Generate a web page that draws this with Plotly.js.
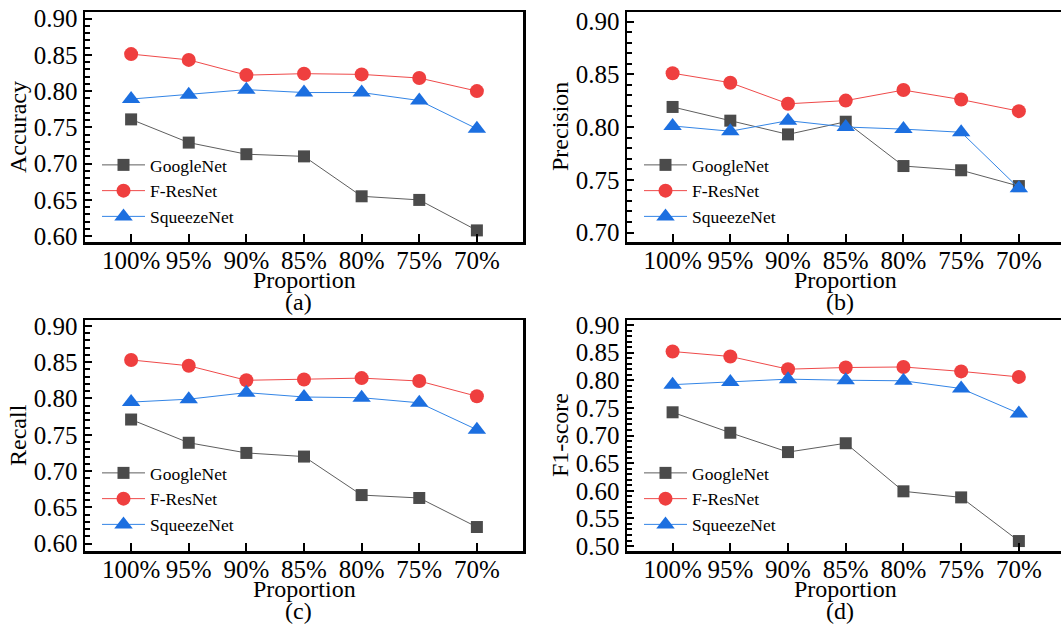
<!DOCTYPE html>
<html>
<head>
<meta charset="utf-8">
<script src="https://cdn.plot.ly/plotly-3.0.1.min.js"></script>
<style>html,body{margin:0;padding:0;background:#fff;}#chart{width:1061px;height:624px;}</style>
</head>
<body>
<div id="chart"></div>
<script>
const proportions = ["100%", "95%", "90%", "85%", "80%", "75%", "70%"];
const seriesNames = ["GoogleNet", "F-ResNet", "SqueezeNet"];

const accGoogleNet = [0.761, 0.729, 0.713, 0.710, 0.655, 0.650, 0.608];
const accFResNet   = [0.851, 0.843, 0.822, 0.824, 0.823, 0.818, 0.800];
const accSqueeze   = [0.789, 0.795, 0.802, 0.798, 0.798, 0.787, 0.748];

const preGoogleNet = [0.819, 0.806, 0.793, 0.805, 0.763, 0.759, 0.744];
const preFResNet   = [0.851, 0.842, 0.822, 0.825, 0.835, 0.826, 0.815];
const preSqueeze   = [0.801, 0.796, 0.806, 0.800, 0.798, 0.795, 0.742];

const recGoogleNet = [0.771, 0.739, 0.725, 0.720, 0.667, 0.663, 0.623];
const recFResNet   = [0.853, 0.845, 0.825, 0.826, 0.828, 0.824, 0.803];
const recSqueeze   = [0.795, 0.799, 0.808, 0.802, 0.801, 0.794, 0.757];

const f1GoogleNet  = [0.742, 0.705, 0.670, 0.686, 0.599, 0.588, 0.509];
const f1FResNet    = [0.852, 0.843, 0.820, 0.823, 0.824, 0.816, 0.806];
const f1Squeeze    = [0.792, 0.797, 0.802, 0.800, 0.799, 0.785, 0.740];

const yTitles = ["Accuracy", "Precision", "Recall", "F1-score"];
const panelLabels = ["(a)", "(b)", "(c)", "(d)"];
const xTitle = "Proportion";

const W = 1061, H = 624;
const FONT = "Liberation Serif";

const styles = [
  {marker: {symbol: "square", size: 12, color: "#4b4b4b"}, line: {color: "#5e5e5e", width: 1}},
  {marker: {symbol: "circle", size: 14, color: "#ef3f3f"}, line: {color: "#ef4a4a", width: 1}},
  {marker: {symbol: "triangle-up", size: 16, color: "#1c6fe0"}, line: {color: "#3385e6", width: 1}}
];

const panels = [
  {data: [accGoogleNet, accFResNet, accSqueeze], px: [85, 523], py: [12, 242], yr: [0.592, 0.909], xr: [-0.8, 6.8], mirrorY: true},
  {data: [preGoogleNet, preFResNet, preSqueeze], px: [627, 1061], py: [12, 242], yr: [0.691, 0.909], xr: [-0.79, 6.73], mirrorY: false},
  {data: [recGoogleNet, recFResNet, recSqueeze], px: [85, 523], py: [320, 551], yr: [0.590, 0.908], xr: [-0.8, 6.8], mirrorY: true},
  {data: [f1GoogleNet, f1FResNet, f1Squeeze], px: [627, 1061], py: [320, 551], yr: [0.491, 0.909], xr: [-0.79, 6.73], mirrorY: false}
];

const traces = [];
const layout = {
  width: W, height: H,
  margin: {l: 0, r: 0, t: 0, b: 0},
  paper_bgcolor: "#fff", plot_bgcolor: "#fff",
  font: {family: FONT, color: "#000", size: 22},
  annotations: []
};

panels.forEach((p, i) => {
  const sfx = i === 0 ? "" : String(i + 1);
  const xa = "x" + sfx, ya = "y" + sfx;
  const lg = i === 0 ? "legend" : "legend" + (i + 1);
  p.data.forEach((vals, s) => {
    traces.push({
      type: "scatter", mode: "lines+markers",
      x: proportions, y: vals, name: seriesNames[s],
      xaxis: xa, yaxis: ya, legend: lg,
      marker: styles[s].marker, line: styles[s].line,
      cliponaxis: false
    });
  });
  const dx = [p.px[0] / W, p.px[1] / W];
  const dy = [1 - p.py[1] / H, 1 - p.py[0] / H];
  layout["xaxis" + sfx] = {
    domain: dx, anchor: ya, type: "category", range: p.xr,
    showline: true, linecolor: "#000", linewidth: 2.5, mirror: true,
    ticks: "inside", ticklen: 8, tickwidth: 2, tickcolor: "#000",
    ticklabelstandoff: -6,
    showgrid: false, zeroline: false, fixedrange: true,
    tickfont: {family: FONT, size: 25, color: "#000"}
  };
  layout["yaxis" + sfx] = {
    domain: dy, anchor: xa, range: p.yr,
    showline: true, linecolor: "#000", linewidth: 2.5, mirror: p.mirrorY,
    ticks: "inside", ticklen: 7, tickwidth: 2, tickcolor: "#000",
    tick0: 0, dtick: 0.05, tickformat: ".2f",
    minor: {ticks: "inside", ticklen: 5, tickwidth: 2, tickcolor: "#000", dtick: 0.01, tick0: 0, showgrid: false},
    showgrid: false, zeroline: false, fixedrange: true,
    tickfont: {family: FONT, size: 25, color: "#000"}
  };
  layout[lg] = {
    x: (p.px[0] + 12) / W, y: 1 - (p.py[0] + 135) / H,
    xanchor: "left", yanchor: "top",
    bgcolor: "rgba(0,0,0,0)", borderwidth: 0,
    itemwidth: 43,
    font: {family: FONT, size: 17.5, color: "#000"},
    tracegroupgap: 0
  };
  const x0 = p.px[0] + (0 - p.xr[0]) / (p.xr[1] - p.xr[0]) * (p.px[1] - p.px[0]);
  const x6 = p.px[0] + (6 - p.xr[0]) / (p.xr[1] - p.xr[0]) * (p.px[1] - p.px[0]);
  const centerX = (x0 + x6) / 2;
  layout.annotations.push({
    text: xTitle, xref: "paper", yref: "paper",
    x: centerX / W, y: 1 - (p.py[1] + 38) / H,
    xanchor: "center", yanchor: "middle", showarrow: false,
    font: {family: FONT, size: 24, color: "#000"}
  });
  layout.annotations.push({
    text: panelLabels[i], xref: "paper", yref: "paper",
    x: (centerX - 6) / W, y: 1 - (p.py[1] + 60) / H,
    xanchor: "center", yanchor: "middle", showarrow: false,
    font: {family: FONT, size: 24, color: "#000"}
  });
  layout.annotations.push({
    text: yTitles[i], xref: "paper", yref: "paper",
    x: (p.px[0] - 67) / W, y: 1 - (p.py[0] + 115) / H,
    xanchor: "center", yanchor: "middle", showarrow: false, textangle: -90,
    font: {family: FONT, size: 24, color: "#000"}
  });
});

Plotly.newPlot("chart", traces, layout, {displayModeBar: false, staticPlot: true});
</script>
</body>
</html>
